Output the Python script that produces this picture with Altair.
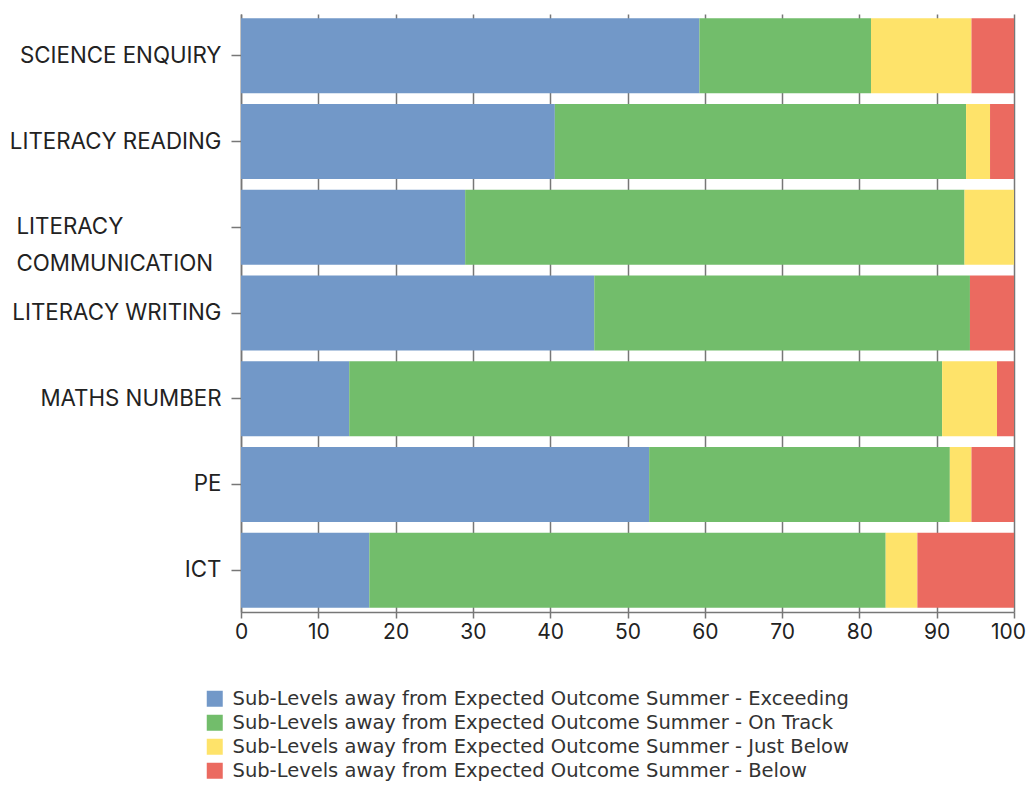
import altair as alt
import pandas as pd

categories = ["SCIENCE ENQUIRY", "LITERACY READING", "LITERACY COMMUNICATION",
              "LITERACY WRITING", "MATHS NUMBER", "PE", "ICT"]
series = ["Sub-Levels away from Expected Outcome Summer - Exceeding",
          "Sub-Levels away from Expected Outcome Summer - On Track",
          "Sub-Levels away from Expected Outcome Summer - Just Below",
          "Sub-Levels away from Expected Outcome Summer - Below"]
exceeding = [59.3, 40.6, 29.0, 45.7, 14.0, 52.8, 16.6]
on_track = [22.2, 53.2, 64.6, 48.6, 76.7, 38.9, 66.8]
just_below = [13.0, 3.1, 6.4, 0.0, 7.1, 2.8, 4.1]
below = [5.5, 3.1, 0.0, 5.7, 2.2, 5.5, 12.5]
colors = ["#7298C8", "#72BD6B", "#FEE36A", "#EB6A60"]

rows = []
for s_i, (name, vals) in enumerate(zip(series, [exceeding, on_track, just_below, below])):
    for c, v in zip(categories, vals):
        rows.append({"category": c, "series": name, "value": v, "order": s_i})
df = pd.DataFrame(rows)

label_font = "Inter"
comm_test = "datum.value == 'LITERACY COMMUNICATION'"

chart = alt.Chart(df).mark_bar().encode(
    y=alt.Y("category:N", sort=categories, title=None,
            scale=alt.Scale(paddingInner=0.125, paddingOuter=0.05),
            axis=alt.Axis(
                labelFont=label_font, labelFontSize=22.3, labelColor="#222222",
                tickSize=10, tickColor="#777777", domainColor="#777777",
                domainWidth=1.5, tickWidth=1.5,
                labelLineHeight=37,
                labelExpr="datum.label == 'LITERACY COMMUNICATION' ? ['LITERACY', 'COMMUNICATION'] : datum.label",
                labelAlign={"condition": {"test": comm_test, "value": "left"}, "value": "right"},
                labelPadding={"condition": {"test": comm_test, "value": 215}, "value": 10},
                grid=False, labelLimit=400)),
    x=alt.X("value:Q", stack="zero", title=None,
            scale=alt.Scale(domain=[0, 100], nice=False),
            axis=alt.Axis(values=list(range(0, 101, 10)), labelFont=label_font,
                          labelFontSize=21, labelColor="#222222", tickSize=6,
                          tickColor="#777777", domainColor="#777777", domainWidth=1.5,
                          tickWidth=1.5, labelPadding=3, grid=True,
                          gridColor="#777777", gridWidth=1.5, labelFlush=False,
                          labelOffset={"condition": {"test": "datum.value == 100", "value": -6}, "value": 0})),
    color=alt.Color("series:N", sort=series,
                    scale=alt.Scale(domain=series, range=colors),
                    legend=alt.Legend(title=None, orient="none", legendX=-36, legendY=675,
                                      symbolType="square", symbolSize=256,
                                      symbolStrokeWidth=0, labelFont="DejaVu Sans",
                                      labelFontSize=19.5, labelColor="#333333",
                                      labelOffset=8, rowPadding=3, labelLimit=800)),
    order=alt.Order("order:Q"),
).properties(
    width=773, height=598,
    autosize=alt.AutoSizeParams(type="none"),
    padding={"left": 233, "top": 6, "right": 12, "bottom": 169},
).configure_view(stroke=None)

chart.save("out.html", embed_options={"renderer": "svg", "actions": False})
